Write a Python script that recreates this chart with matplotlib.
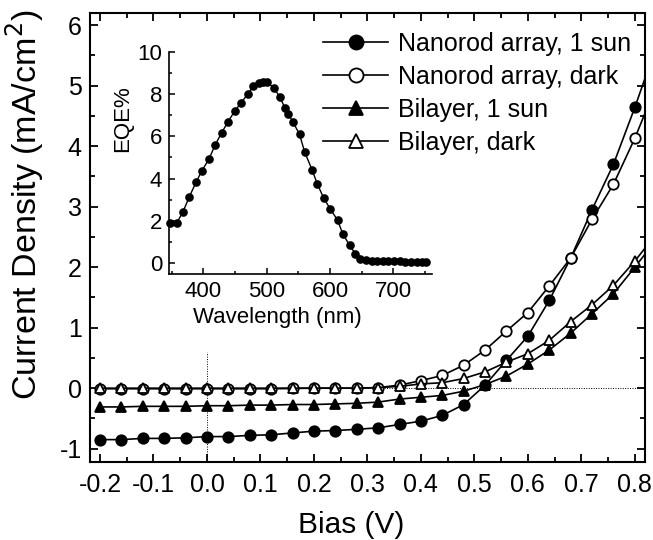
import matplotlib
matplotlib.use("Agg")
import matplotlib.pyplot as plt
from matplotlib.ticker import MultipleLocator

plt.rcParams['font.family'] = ['Liberation Sans', 'DejaVu Sans']
plt.rcParams['axes.unicode_minus'] = False

# ---------------- data ----------------
bias = [-0.20, -0.16, -0.12, -0.08, -0.04, 0.00, 0.04, 0.08, 0.12, 0.16, 0.20,
        0.24, 0.28, 0.32, 0.36, 0.40, 0.44, 0.48, 0.52, 0.56, 0.60, 0.64, 0.68,
        0.72, 0.76, 0.80, 0.84]
nanorod_sun = [-0.85, -0.85, -0.83, -0.83, -0.82, -0.80, -0.80, -0.78, -0.77, -0.74,
               -0.71, -0.70, -0.68, -0.655, -0.60, -0.545, -0.45, -0.27, 0.05, 0.46,
               0.86, 1.45, 2.15, 2.95, 3.70, 4.64, 5.65]
nanorod_dark = [-0.01, -0.01, -0.01, -0.01, -0.01, -0.01, -0.01, -0.01, -0.01, -0.005,
                0.0, 0.0, 0.0, 0.01, 0.05, 0.125, 0.21, 0.38, 0.63, 0.945,
                1.25, 1.69, 2.15, 2.79, 3.37, 4.13, 5.0]
bilayer_sun = [-0.31, -0.31, -0.30, -0.30, -0.30, -0.29, -0.29, -0.28, -0.28, -0.27,
               -0.27, -0.26, -0.25, -0.23, -0.18, -0.15, -0.12, -0.05, 0.06, 0.20,
               0.40, 0.63, 0.91, 1.23, 1.56, 2.00, 2.45]
bilayer_dark = [0.0, 0.0, 0.0, 0.0, 0.0, 0.0, 0.0, 0.0, 0.0, 0.0,
                0.0, 0.0, 0.0, 0.01, 0.03, 0.07, 0.09, 0.16, 0.27, 0.43,
                0.57, 0.79, 1.10, 1.38, 1.70, 2.10, 2.55]
labels = ["Nanorod array, 1 sun", "Nanorod array, dark", "Bilayer, 1 sun", "Bilayer, dark"]

wavelength = [348, 358, 368, 378, 389, 398, 409, 419, 429, 439, 450, 459, 470, 479,
              488, 495, 501, 511, 521, 529, 534, 542, 552, 560, 572, 580, 590, 600,
              612, 620, 631, 640, 648, 657, 666, 675, 684, 692, 701, 710, 719, 728,
              737, 746, 752]
eqe = [1.9, 1.9, 2.43, 3.14, 3.85, 4.38, 4.92, 5.6, 6.16, 6.68, 7.2, 7.55, 7.98, 8.36,
       8.52, 8.58, 8.55, 8.3, 7.85, 7.33, 7.07, 6.65, 6.09, 5.26, 4.4, 3.75, 3.09, 2.59,
       2.04, 1.41, 0.85, 0.46, 0.22, 0.14, 0.12, 0.11, 0.10, 0.10, 0.09, 0.09, 0.08, 0.08,
       0.07, 0.07, 0.07]

# ---------------- figure ----------------
W, H = 653, 540
fig = plt.figure(figsize=(W / 100, H / 100), dpi=100)
L, R, T, B = 90, 645, 13, 462
ax = fig.add_axes([L / W, 1 - B / H, (R - L) / W, (B - T) / H])

ax.axhline(0, color='black', lw=0.7, ls=(0, (1, 1.5)), zorder=1)
ax.plot([0, 0], [-1.25, 0.6], color='black', lw=0.7, ls=(0, (1, 1.5)), zorder=1)

lw = 1.2
ms = 7.5
styles = [
    (nanorod_sun, 'o', 'black'),
    (nanorod_dark, 'o', 'white'),
    (bilayer_sun, '^', 'black'),
    (bilayer_dark, '^', 'white'),
]
for (ys, mk, fc), lab in zip(styles, labels):
    ax.plot(bias, ys, color='black', lw=lw, marker=mk, ms=ms, mfc=fc,
            mec='black', mew=1.3, label=lab, zorder=3)

ax.set_xlim(-0.2187, 0.819)
ax.set_ylim(-1.22, 6.2)
ax.xaxis.set_major_locator(MultipleLocator(0.1))
ax.xaxis.set_minor_locator(MultipleLocator(0.05))
ax.yaxis.set_major_locator(MultipleLocator(1))
ax.yaxis.set_minor_locator(MultipleLocator(0.5))
ax.xaxis.set_major_formatter(plt.FuncFormatter(lambda v, p: f"{v:.1f}"))
ax.tick_params(which='both', direction='in', top=True, right=True, width=1.3)
ax.tick_params(which='major', length=6, labelsize=18)
ax.tick_params(axis='x', which='major', pad=8)
ax.tick_params(axis='y', which='major', pad=6)
ax.tick_params(which='minor', length=3.5)
for s in ax.spines.values():
    s.set_linewidth(1.5)

ax.set_xlabel("Bias (V)", fontsize=21.5)
ax.xaxis.set_label_coords((351.5 - L) / (R - L), (B - 511) / (B - T))
ax.set_ylabel("Current Density (mA/cm$^2$)", fontsize=24.5)
ax.yaxis.set_label_coords((46 - L) / (R - L), (B - 205) / (B - T))

leg = ax.legend(loc='upper left', bbox_to_anchor=(323 / W, 1 - 32 / H),
                bbox_transform=fig.transFigure, frameon=False, fontsize=18,
                handlelength=2.6, handletextpad=0.4, labelspacing=0.36,
                borderpad=0, borderaxespad=0, markerscale=1.35)

# ---------------- inset ----------------
iL, iR, iT, iB = 169, 432, 51.5, 274
axi = fig.add_axes([iL / W, 1 - iB / H, (iR - iL) / W, (iB - iT) / H])
axi.patch.set_alpha(0)
axi.plot(wavelength, eqe, color='black', lw=1.0, marker='o', ms=5.2, mfc='black',
         mec='black', clip_on=False)
axi.set_xlim(346, 761)
axi.set_ylim(-0.5, 10)
axi.spines['top'].set_visible(False)
axi.spines['right'].set_visible(False)
for s in ('left', 'bottom'):
    axi.spines[s].set_linewidth(1.2)
axi.xaxis.set_major_locator(MultipleLocator(100))
axi.xaxis.set_minor_locator(MultipleLocator(50))
axi.yaxis.set_major_locator(MultipleLocator(2))
axi.yaxis.set_minor_locator(MultipleLocator(1))
axi.tick_params(which='both', direction='in', width=1.1)
axi.tick_params(which='major', length=4.5, labelsize=16)
axi.tick_params(which='minor', length=2.5)
axi.tick_params(axis='x', pad=5)
axi.tick_params(axis='y', pad=5)
axi.set_xlabel("Wavelength (nm)", fontsize=16)
axi.xaxis.set_label_coords((277 - iL) / (iR - iL), (iB - 307) / (iB - iT))
axi.set_ylabel("EQE%", fontsize=16)
axi.yaxis.set_label_coords((133 - iL) / (iR - iL), (iB - 119) / (iB - iT))

fig.savefig("out.png", dpi=100)
